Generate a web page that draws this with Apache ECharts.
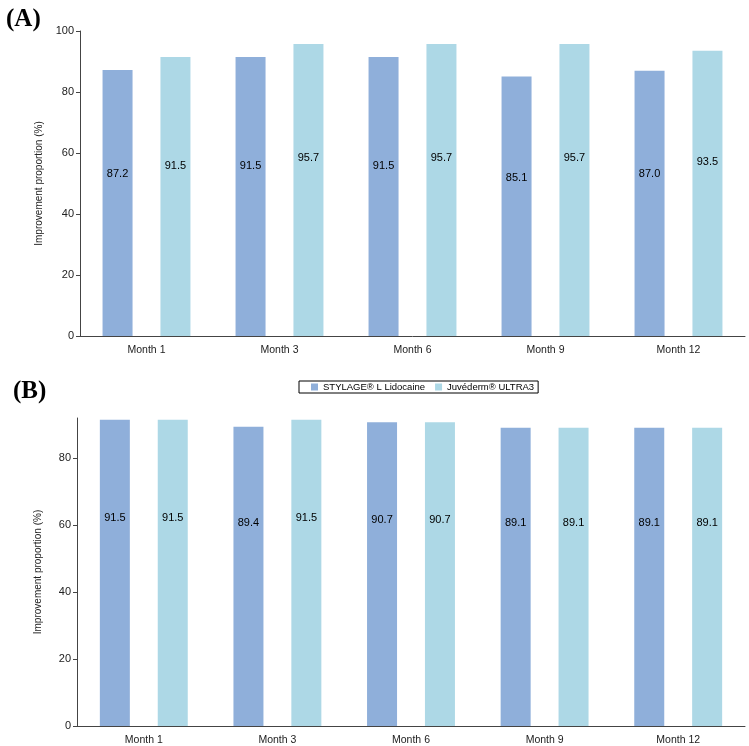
<!DOCTYPE html>
<html>
<head>
<meta charset="utf-8">
<script src="https://cdn.jsdelivr.net/npm/echarts@6/dist/echarts.min.js"></script>
<style>
  html, body { margin: 0; padding: 0; background: #fff; }
  #chart { width: 749px; height: 746px; }
</style>
</head>
<body>
<div id="chart"></div>
<script>
const months = ['Month 1', 'Month 3', 'Month 6', 'Month 9', 'Month 12']
const seriesNames = ['STYLAGE\u00ae L Lidocaine', 'Juv\u00e9derm\u00ae ULTRA3']

// panel A
const stylageA = [87.2, 91.5, 91.5, 85.1, 87.0]
const juvedermA = [91.5, 95.7, 95.7, 95.7, 93.5]
// panel B
const stylageB = [91.5, 89.4, 90.7, 89.1, 89.1]
const juvedermB = [91.5, 91.5, 90.7, 89.1, 89.1]

const ticksA = [0, 20, 40, 60, 80, 100]
const ticksB = [0, 20, 40, 60, 80]

const colors = ['#8FAFDA', '#ADD8E6']
const font = 'Liberation Sans'

function makeBar(name, data, idx, color, labelY) {
  return {
    name: name,
    type: 'bar',
    xAxisIndex: idx,
    yAxisIndex: idx,
    data: data,
    barWidth: 30,
    barGap: '93%',
    itemStyle: { color: color },
    label: {
      show: true,
      position: ['50%', labelY],
      align: 'center',
      verticalAlign: 'middle',
      color: '#000',
      fontFamily: font,
      fontSize: 11,
      formatter: p => p.value.toFixed(1)
    },
    animation: false
  }
}

function yAxis(idx, max, ticks) {
  return {
    type: 'value',
    gridIndex: idx,
    min: 0,
    max: max,
    interval: 20,
    name: 'Improvement proportion (%)',
    nameLocation: 'middle',
    nameGap: 34,
    nameTextStyle: { fontFamily: font, fontSize: 10, color: '#222' },
    axisLine: { show: true, lineStyle: { color: '#444' } },
    axisTick: { show: true, length: 4, customValues: ticks, lineStyle: { color: '#444' } },
    axisLabel: { customValues: ticks, fontFamily: font, fontSize: 11, color: '#222', margin: 6 },
    splitLine: { show: false }
  }
}

function xAxis(idx) {
  return {
    type: 'category',
    gridIndex: idx,
    data: months,
    axisLine: { lineStyle: { color: '#444' } },
    axisTick: { show: false },
    axisLabel: { fontFamily: font, fontSize: 10.5, color: '#222', margin: 9 }
  }
}

const chart = echarts.init(document.getElementById('chart'))
chart.setOption({
  animation: false,
  title: [
    { text: '(A)', left: 1, top: 2, textStyle: { fontFamily: 'Liberation Serif', fontSize: 25, fontWeight: 'bold', color: '#000' } },
    { text: '(B)', left: 8, top: 374, textStyle: { fontFamily: 'Liberation Serif', fontSize: 25, fontWeight: 'bold', color: '#000' } }
  ],
  legend: {
    data: seriesNames,
    top: 381,
    left: 299,
    itemWidth: 7,
    itemHeight: 7,
    itemGap: 10,
    padding: [1, 4, 1, 12],
    borderColor: '#000',
    borderWidth: 1,
    icon: 'rect',
    textStyle: { fontFamily: font, fontSize: 9.5, color: '#000' }
  },
  grid: [
    { left: 80, right: 4, top: 31, height: 305 },
    { left: 77, right: 4, top: 418, height: 308 }
  ],
  xAxis: [xAxis(0), xAxis(1)],
  yAxis: [yAxis(0, 100, ticksA), yAxis(1, 92, ticksB)],
  series: [
    makeBar(seriesNames[0], stylageA, 0, colors[0], '39%'),
    makeBar(seriesNames[1], juvedermA, 0, colors[1], '39%'),
    makeBar(seriesNames[0], stylageB, 1, colors[0], '32%'),
    makeBar(seriesNames[1], juvedermB, 1, colors[1], '32%')
  ]
})
</script>
</body>
</html>
